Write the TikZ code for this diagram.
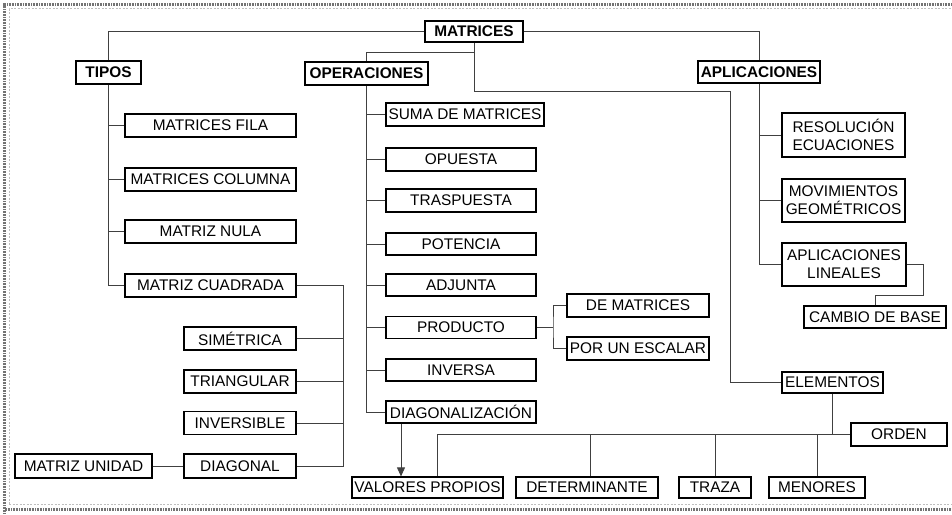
\documentclass[tikz,border=0pt]{standalone}
\usepackage{fontspec}
\setmainfont{Liberation Sans}
\usetikzlibrary{arrows.meta}
\tikzset{
  bx/.style={draw=black, line width=1.2pt, inner sep=0pt, align=center, fill=white,
    font=\fontsize{15.4}{18}\selectfont, minimum height=23pt},
  hd/.style={bx, font=\fontsize{15.4}{18}\selectfont\bfseries},
  cn/.style={draw=black!75, line width=0.8pt},
  frameo/.style={draw=black!55, line width=2.6pt, dash pattern=on 1pt off 0.6pt},
  framei/.style={draw=gray!50, line width=0.5pt, dash pattern=on 2pt off 1.5pt}
}
\begin{document}
\begin{tikzpicture}[x=1pt,y=-1pt]
\useasboundingbox (0,0) rectangle (952,514);
% frame
\draw[frameo] (4.5,514) -- (4.5,4.5) -- (952,4.5);
\draw[frameo] (4.5,509.5) -- (952,509.5);
\draw[framei] (9,504) -- (9,8.5) -- (952,8.5);
\draw[framei] (9,504) -- (952,504);

% headers
\node[hd, minimum width=98pt, minimum height=21pt] (mat) at (474,31.5) {MATRICES};
\node[hd, minimum width=65pt] (tipos) at (108.5,72.5) {TIPOS};
\node[hd, minimum width=123pt] (oper) at (366.5,73.5) {OPERACIONES};
\node[hd, minimum width=122pt, minimum height=22pt] (aplic) at (759,72) {APLICACIONES};

% tipos
\node[bx, minimum width=171pt] (mfila) at (210.5,125.5) {MATRICES FILA};
\node[bx, minimum width=171pt] (mcol) at (210.5,179.5) {MATRICES COLUMNA};
\node[bx, minimum width=171pt] (mnula) at (210.5,231.5) {MATRIZ NULA};
\node[bx, minimum width=171pt] (mcuad) at (210.5,285.5) {MATRIZ CUADRADA};
\node[bx, minimum width=112pt] (sim) at (240,338.5) {SIMÉTRICA};
\node[bx, minimum width=112pt] (tri) at (240,381.5) {TRIANGULAR};
\node[bx, minimum width=112pt] (inv) at (240,423) {INVERSIBLE};
\node[bx, minimum width=112pt, minimum height=24pt] (diag) at (240,466) {DIAGONAL};
\node[bx, minimum width=137pt, minimum height=24pt] (munid) at (83.5,466) {MATRIZ UNIDAD};

% operaciones
\node[bx, minimum width=158pt] (suma) at (465,114.5) {SUMA DE MATRICES};
\node[bx, minimum width=150pt] (opu) at (461,159.5) {OPUESTA};
\node[bx, minimum width=150pt] (tras) at (461,200.5) {TRASPUESTA};
\node[bx, minimum width=150pt, minimum height=22pt] (pot) at (461,244) {POTENCIA};
\node[bx, minimum width=150pt, minimum height=22pt] (adj) at (461,285) {ADJUNTA};
\node[bx, minimum width=150pt, minimum height=22pt] (prod) at (461,327.5) {PRODUCTO};
\node[bx, minimum width=150pt, minimum height=22pt] (invs) at (461,370) {INVERSA};
\node[bx, minimum width=150pt, minimum height=22pt] (diagz) at (461,412) {DIAGONALIZACIÓN};
\node[bx, minimum width=142pt] (demat) at (638,305.5) {DE MATRICES};
\node[bx, minimum width=142pt] (esc) at (638,348.5) {POR UN ESCALAR};

% elementos
\node[bx, minimum width=151pt, minimum height=21pt] (valp) at (427.5,487.5) {VALORES PROPIOS};
\node[bx, minimum width=142pt, minimum height=21pt] (det) at (587,487.5) {DETERMINANTE};
\node[bx, minimum width=72pt, minimum height=21pt] (traza) at (715,487.5) {TRAZA};
\node[bx, minimum width=96pt, minimum height=21pt] (men) at (817,487.5) {MENORES};
\node[bx, minimum width=96pt] (orden) at (899,434.5) {ORDEN};
\node[bx, minimum width=101pt, minimum height=21pt] (elem) at (832.5,382.5) {ELEMENTOS};

% aplicaciones
\node[bx, minimum width=123pt, minimum height=44pt] (resol) at (843.5,135) {RESOLUCIÓN\\ECUACIONES};
\node[bx, minimum width=123pt, minimum height=43pt] (movi) at (843.5,200.5) {MOVIMIENTOS\\GEOMÉTRICOS};
\node[bx, minimum width=124pt, minimum height=43pt] (aplin) at (844,264.5) {APLICACIONES\\LINEALES};
\node[bx, minimum width=142pt, minimum height=22pt] (cambio) at (875,317) {CAMBIO DE BASE};

% helper coordinates
\coordinate (opjoin) at (474,52);
\coordinate (elturn) at (730,91);
\coordinate (cqx) at (343,285.5);
\coordinate (px) at (553,327.5);
\coordinate (ca) at (923,264.5);
\coordinate (cb) at (875,295);

% main connectors
\draw[cn] (mat.west) -| (tipos.north);
\draw[cn] (mat.east) -| (aplic.north);
\draw[cn] (mat.south) |- (elturn) |- (elem.west);
\draw[cn] (opjoin) -| (oper.north);

% tipos
\draw[cn] (tipos.south) |- (mcuad.west);
\draw[cn] (tipos.south |- mfila) -- (mfila.west);
\draw[cn] (tipos.south |- mcol) -- (mcol.west);
\draw[cn] (tipos.south |- mnula) -- (mnula.west);
\draw[cn] (mcuad.east) -- (cqx) |- (diag.east);
\draw[cn] (cqx |- sim) -- (sim.east);
\draw[cn] (cqx |- tri) -- (tri.east);
\draw[cn] (cqx |- inv) -- (inv.east);
\draw[cn] (munid.east) -- (diag.west);

% operaciones
\draw[cn] (oper.south) |- (diagz.west);
\foreach \n in {suma,opu,tras,pot,adj,prod,invs}
  \draw[cn] (oper.south |- \n) -- (\n.west);
\draw[cn] (prod.east) -- (px);
\draw[cn] (demat.west) -| (px) |- (esc.west);
\draw[cn, -{Triangle[length=9pt,width=8pt]}] ([xshift=-60pt]diagz.south) -- ([xshift=-60pt]diagz.south |- valp.north);

% elementos
\draw[cn] ([xshift=9.5pt]valp.north) |- (orden.west);
\draw[cn] (elem.south) -- (elem.south |- orden.west);
\draw[cn] ([xshift=3pt]det.north) -- ([xshift=3pt]det.north |- orden.west);
\draw[cn] (traza.north) -- (traza.north |- orden.west);
\draw[cn] (men.north) -- (men.north |- orden.west);

% aplicaciones
\draw[cn] (aplic.south) |- (aplin.west);
\draw[cn] (aplic.south |- resol) -- (resol.west);
\draw[cn] (aplic.south |- movi) -- (movi.west);
\draw[cn] (aplin.east) -- (ca) |- (cb) -- (cambio.north);
\end{tikzpicture}
\end{document}
